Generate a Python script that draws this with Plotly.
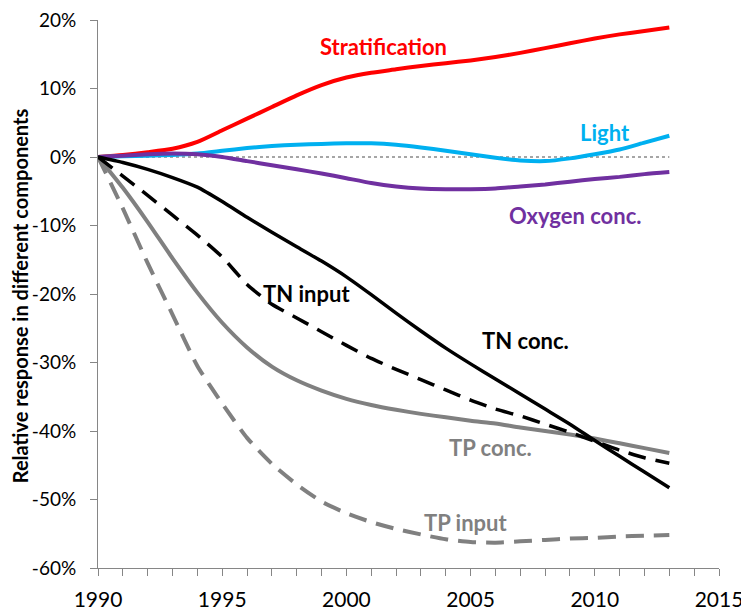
import plotly.graph_objects as go

# ============================================================
# DATA (relative response, %)
# ============================================================
years = list(range(1990, 2014))

stratification = [0, 0.3, 0.7, 1.2, 2.2, 3.9, 5.6, 7.3, 9.0, 10.5, 11.6, 12.3,
                  12.8, 13.3, 13.7, 14.1, 14.6, 15.2, 15.9, 16.6, 17.3, 17.9, 18.4, 18.9]
light = [0, 0.1, 0.2, 0.3, 0.5, 0.9, 1.3, 1.6, 1.8, 1.9, 2.0, 2.0,
         1.8, 1.4, 0.9, 0.4, -0.1, -0.5, -0.6, -0.2, 0.4, 1.1, 2.1, 3.1]
oxygen = [0, 0.2, 0.4, 0.5, 0.4, 0.0, -0.6, -1.2, -1.8, -2.4, -3.1, -3.8,
          -4.3, -4.6, -4.7, -4.7, -4.6, -4.3, -4.0, -3.6, -3.2, -2.9, -2.5, -2.2]
tn_conc = [0, -0.8, -1.8, -3.0, -4.4, -6.5, -8.8, -11.0, -13.1, -15.2, -17.5, -20.1,
           -22.8, -25.4, -27.9, -30.2, -32.4, -34.6, -36.8, -39.0, -41.4, -43.7, -46.0, -48.3]
tn_input = [0, -2.8, -5.6, -8.5, -11.4, -14.6, -18.6, -21.5, -23.5, -25.5, -27.5, -29.4,
            -31.0, -32.5, -34.0, -35.5, -36.8, -37.8, -39.0, -40.2, -41.5, -42.8, -43.9, -44.7]
tp_conc = [0, -4.5, -9.5, -14.8, -19.8, -24.2, -27.8, -30.6, -32.6, -34.1, -35.3, -36.2,
           -36.9, -37.5, -38.0, -38.5, -38.9, -39.5, -40.0, -40.5, -41.1, -41.8, -42.5, -43.2]
tp_input = [0, -7.5, -15.5, -23.0, -30.5, -36.0, -41.0, -44.8, -47.8, -50.3, -52.0, -53.3,
            -54.3, -55.1, -55.8, -56.2, -56.3, -56.1, -55.9, -55.7, -55.6, -55.4, -55.3, -55.2]
baseline = [0] * len(years)

y_ticks = [-60, -50, -40, -30, -20, -10, 0, 10, 20]
y_ticktext = [f"{v}%" for v in y_ticks]
x_ticks = [1990, 1995, 2000, 2005, 2010, 2015]

FONT = "Lato"
AXIS_GRAY = "#868686"

fig = go.Figure()

# zero reference line
fig.add_trace(go.Scatter(x=years, y=baseline, mode="lines",
                         line=dict(color="#A6A6A6", width=2, dash="dot"),
                         hoverinfo="skip", showlegend=False))

series = [
    ("Stratification", stratification, "#FF0000", 4, "solid"),
    ("Light", light, "#00B0F0", 4, "solid"),
    ("Oxygen conc.", oxygen, "#7030A0", 4, "solid"),
    ("TP input", tp_input, "#808080", 4, "18px,10px"),
    ("TP conc.", tp_conc, "#808080", 4, "solid"),
    ("TN input", tn_input, "#000000", 3.5, "18px,10px"),
    ("TN conc.", tn_conc, "#000000", 3.5, "solid"),
]
for name, vals, color, w, dash in series:
    fig.add_trace(go.Scatter(x=years, y=vals, mode="lines", name=name,
                             line=dict(color=color, width=w, dash=dash, shape="spline", smoothing=0.6),
                             showlegend=False))

# ============================================================
# LABELS
# ============================================================
labels = [
    ("Stratification", 2001.5, 16.2, "#FF0000"),
    ("Light", 2010.4, 3.6, "#00B0F0"),
    ("Oxygen conc.", 2009.2, -8.6, "#7030A0"),
    ("TN input", 1998.4, -19.9, "#000000"),
    ("TN conc.", 2007.2, -26.8, "#000000"),
    ("TP conc.", 2005.8, -42.4, "#808080"),
    ("TP input", 2004.8, -53.3, "#808080"),
]
for txt, lx, ly, col in labels:
    fig.add_annotation(x=lx, y=ly, text=f"<b>{txt}</b>", showarrow=False,
                       font=dict(family=FONT, size=22, color=col))

# y-axis title
fig.add_annotation(xref="paper", yref="paper", x=-0.1262, y=0.497,
                   text="<b>Relative response in different components</b>",
                   textangle=-90, showarrow=False, xanchor="center", yanchor="middle",
                   font=dict(family=FONT, size=20, color="#000000"))

fig.update_xaxes(range=[1990, 2015], tickvals=x_ticks, ticks="outside", ticklen=7,
                 tickcolor=AXIS_GRAY, showline=True, linecolor=AXIS_GRAY, linewidth=1,
                 showgrid=False, zeroline=False, ticklabelstandoff=6,
                 minor=dict(dtick=1, ticks="outside", ticklen=7, tickcolor=AXIS_GRAY, showgrid=False),
                 tickfont=dict(family=FONT, size=21, color="#000000"))
fig.update_yaxes(range=[-60, 20], tickvals=y_ticks, ticktext=y_ticktext, ticks="outside",
                 ticklen=7, tickcolor=AXIS_GRAY, showline=True, linecolor=AXIS_GRAY,
                 linewidth=1, showgrid=False, zeroline=False, ticklabelstandoff=10,
                 ticklabeloverflow="allow",
                 tickfont=dict(family=FONT, size=19, color="#000000"))

# page body has an 8px margin, so the figure is sized to fit inside the window
fig.update_layout(
    width=741, height=604,
    margin=dict(l=89.5, r=29.5, t=11.5, b=44, autoexpand=False),
    paper_bgcolor="white", plot_bgcolor="white",
)

fig.write_html("out.html")
